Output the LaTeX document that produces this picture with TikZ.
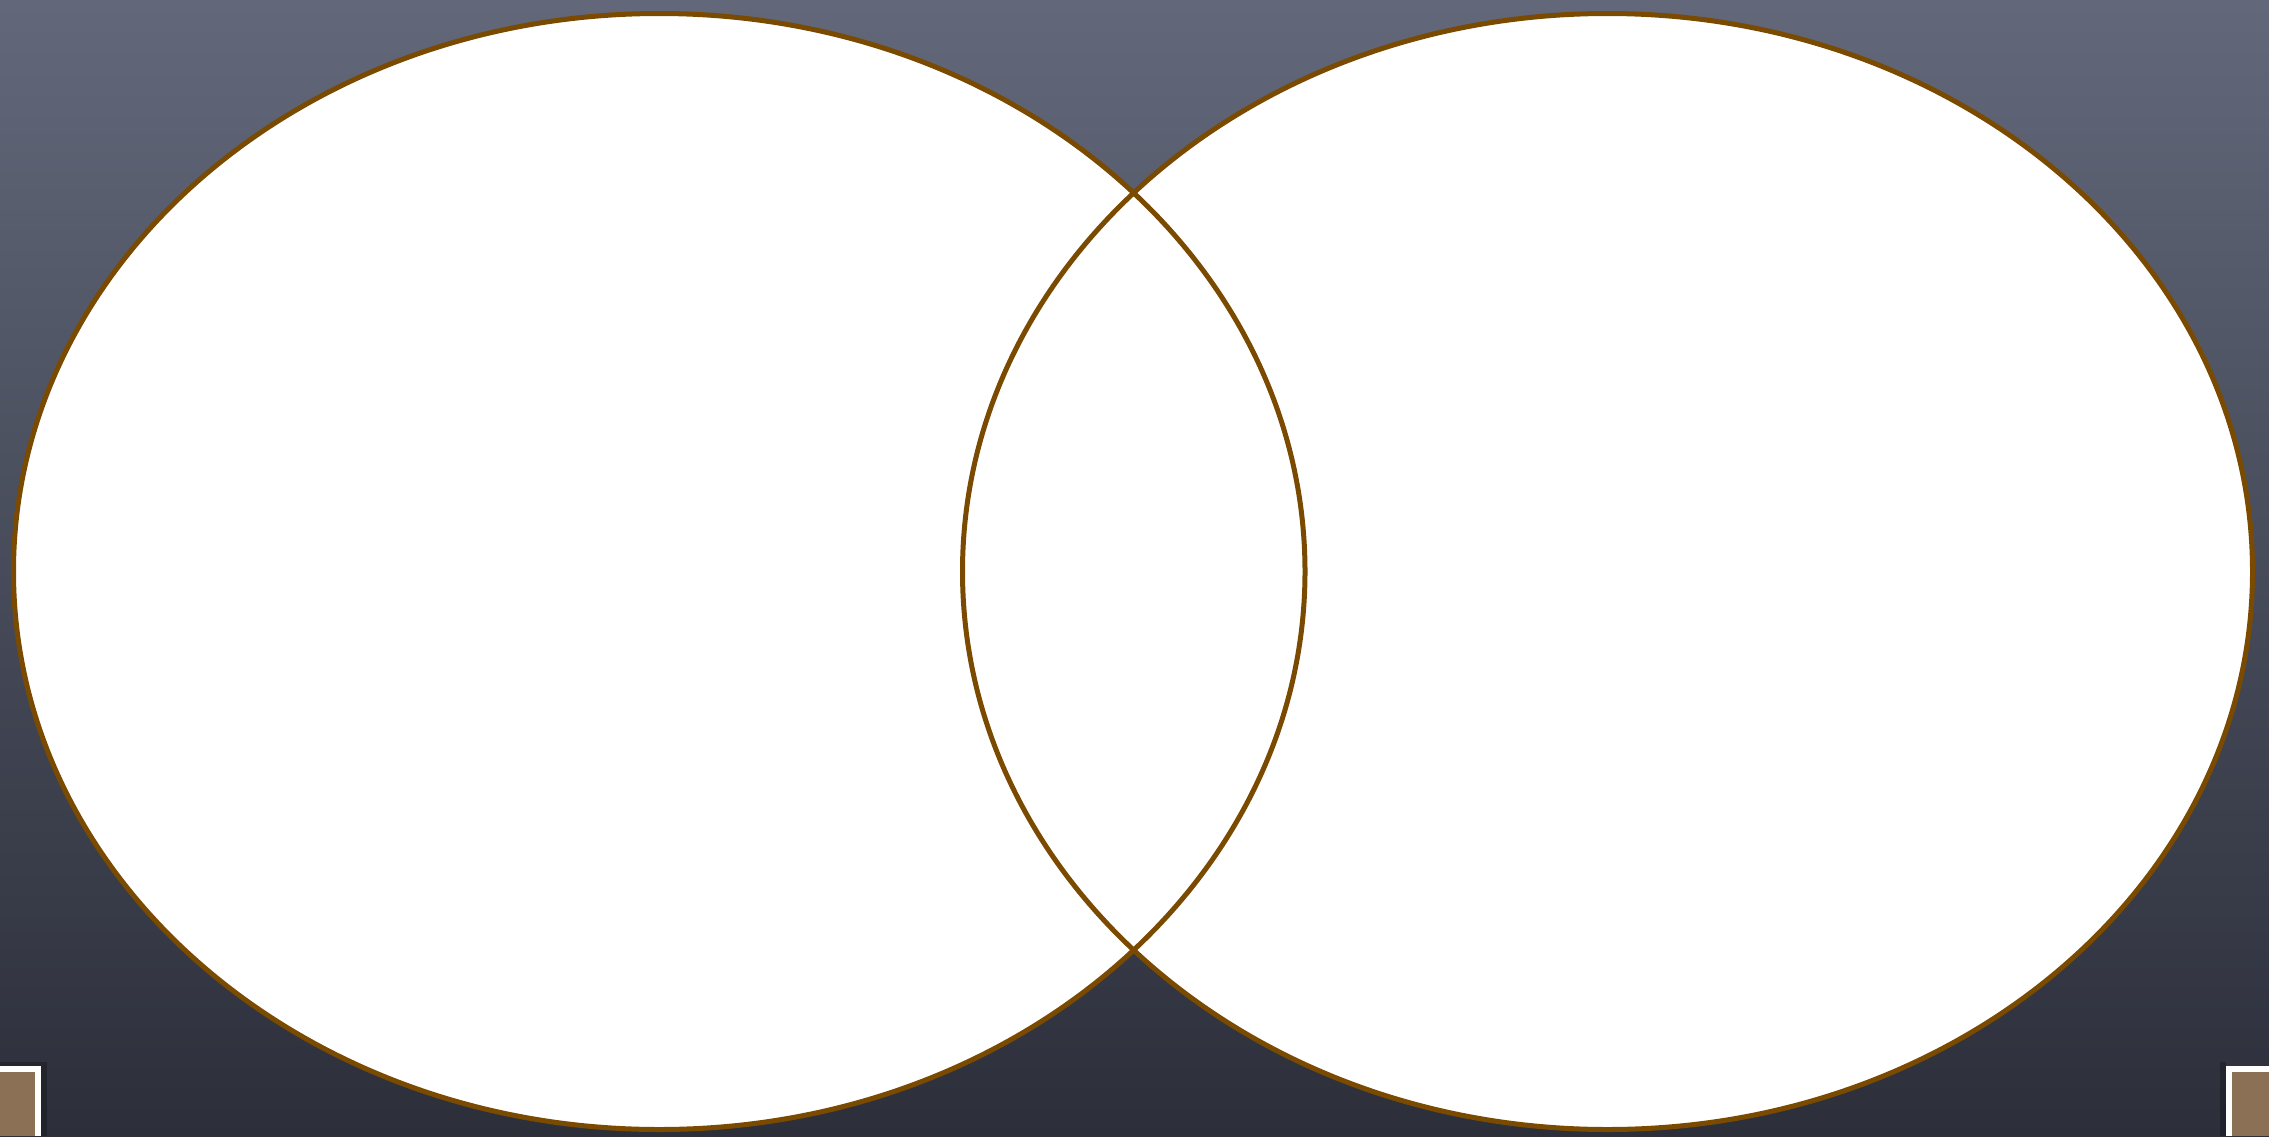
\documentclass[tikz,border=0pt]{standalone}
\usetikzlibrary{shapes.geometric}
\definecolor{bgtop}{RGB}{98,104,122}
\definecolor{bgbot}{RGB}{44,47,58}
\definecolor{rim}{RGB}{122,74,0}
\definecolor{tile}{RGB}{140,112,86}
\tikzset{
  vennfill/.style={fill=white},
  vennline/.style={draw=rim, line width=0.05cm},
  tileframe/.style={fill=white},
  tilecore/.style={fill=tile}
}
\begin{document}
\begin{tikzpicture}
\useasboundingbox (0,0) rectangle (22.69,11.36);
\shade[top color=bgtop, bottom color=bgbot] (0,0) rectangle (22.69,11.36);
% corner tiles
\fill[black, opacity=0.25] (0,0) rectangle (0.47,0.74);
\fill[tileframe] (0,0) rectangle (0.41,0.70);
\fill[tilecore] (0,0) rectangle (0.35,0.643);
\fill[black, opacity=0.25] (22.20,0) rectangle (22.26,0.74);
\fill[tileframe] (22.26,0) rectangle (22.69,0.70);
\fill[tilecore] (22.317,0) rectangle (22.69,0.643);
% Venn fills
\fill[vennfill] (6.5925,5.645) ellipse [x radius=6.4575, y radius=5.58];
\fill[vennfill] (16.075,5.645) ellipse [x radius=6.45, y radius=5.58];
% Venn outlines
\draw[vennline] (6.5925,5.645) ellipse [x radius=6.4575, y radius=5.58];
\draw[vennline] (16.075,5.645) ellipse [x radius=6.45, y radius=5.58];
\end{tikzpicture}
\end{document}
